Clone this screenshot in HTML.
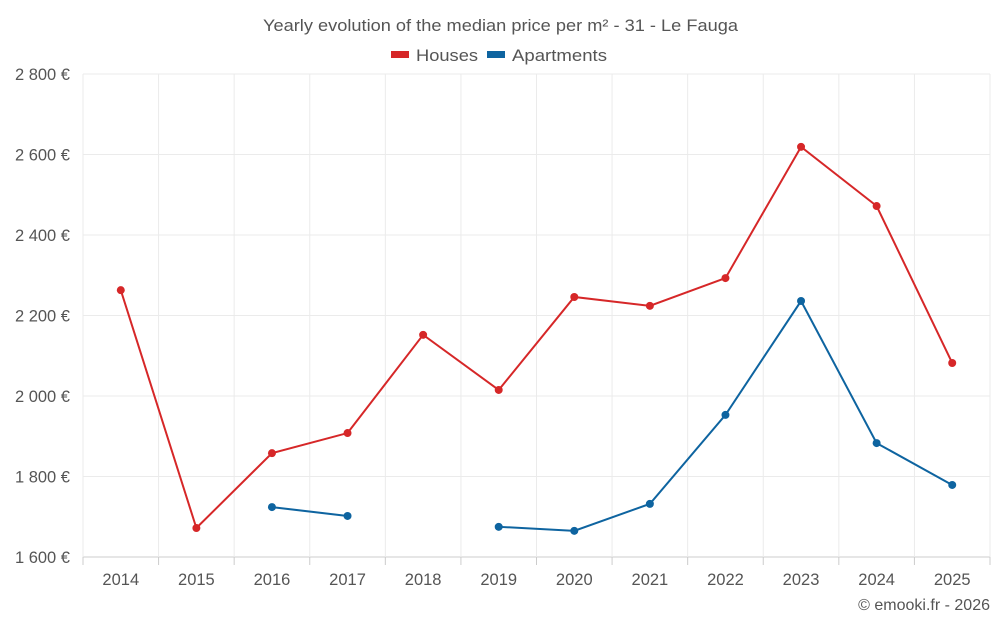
<!DOCTYPE html>
<html><head><meta charset="utf-8"><style>
body{margin:0;background:#fff;font-family:"Liberation Sans",sans-serif;}
svg text{font-family:"Liberation Sans",sans-serif;}
</style></head><body>
<svg id="chart" width="1000" height="625">
<text x="263" y="31" font-size="17" fill="#555" textLength="475" lengthAdjust="spacingAndGlyphs">Yearly evolution of the median price per m² - 31 - Le Fauga</text>
<g>
<g><rect x="391" y="51" width="18" height="7" fill="#d62728"/><text x="416" y="61" font-size="17" fill="#555" textLength="62" lengthAdjust="spacingAndGlyphs">Houses</text></g>
<g><rect x="487" y="51" width="18" height="7" fill="#0e64a0"/><text x="512" y="61" font-size="17" fill="#555" textLength="95" lengthAdjust="spacingAndGlyphs">Apartments</text></g>
</g>
<g id="grid"></g><g id="axes"></g><g id="series"></g>
<text x="990" y="610" text-anchor="end" font-size="16" fill="#555">© emooki.fr - 2026</text>
</svg>
<script>
const years=[2014,2015,2016,2017,2018,2019,2020,2021,2022,2023,2024,2025];
const houses=[2263,1672,1858,1908,2152,2015,2246,2224,2293,2619,2472,2082];
const apartments=[null,null,1724,1702,null,1675,1665,1732,1953,2236,1883,1779];
const yTicks=[1600,1800,2000,2200,2400,2600,2800];
const yLabels=["1 600 €","1 800 €","2 000 €","2 200 €","2 400 €","2 600 €","2 800 €"];
const L=83,R=990,T=74,B=557,yMin=1600,yMax=2800;
const bw=(R-L)/years.length;
const x=i=>L+bw*(i+0.5);
const y=v=>B-(v-yMin)/(yMax-yMin)*(B-T);
const NS="http://www.w3.org/2000/svg";
function mk(tag,attrs,parent){const e=document.createElementNS(NS,tag);for(const k in attrs)e.setAttribute(k,attrs[k]);parent.appendChild(e);return e;}
const grid=document.getElementById('grid'),axes=document.getElementById('axes'),ser=document.getElementById('series');
yTicks.forEach((t,i)=>{
 const l=mk('line',{x1:L,x2:R,y1:y(t),y2:y(t),stroke:i==0?'#ccc':'#ebebeb'},grid);
 
 
 const tx=mk('text',{x:70,y:y(t)+6,'text-anchor':'end','font-size':16.5,fill:'#555'},axes);
 tx.textContent=yLabels[i];
 
 
});
for(let i=0;i<=years.length;i++){
 const l=mk('line',{x1:L+bw*i,x2:L+bw*i,y1:T,y2:B,stroke:'#ebebeb'},grid);
 
 
 const tk=mk('line',{x1:L+bw*i,x2:L+bw*i,y1:B,y2:B+8,stroke:'#ccc'},grid);
 
 
}
years.forEach((yr,i)=>{
 const tx=mk('text',{x:x(i),y:585,'text-anchor':'middle','font-size':16.5,fill:'#555'},axes);
 tx.textContent=yr;
 
 
});
function draw(vals,color,name){
 let d='',pen=false;
 vals.forEach((v,i)=>{if(v==null){pen=false;return;}d+=(pen?'L':'M')+x(i)+' '+y(v)+' ';pen=true;});
 const p=mk('path',{d:d,fill:'none',stroke:color,'stroke-width':2},ser);
 
 
 vals.forEach((v,i)=>{if(v==null)return;
  const c=mk('circle',{cx:x(i),cy:y(v),r:4,fill:color},ser);
  
  
 });
}
draw(houses,'#d62728','houses');
draw(apartments,'#0e64a0','apartments');
</script>
</body></html>
